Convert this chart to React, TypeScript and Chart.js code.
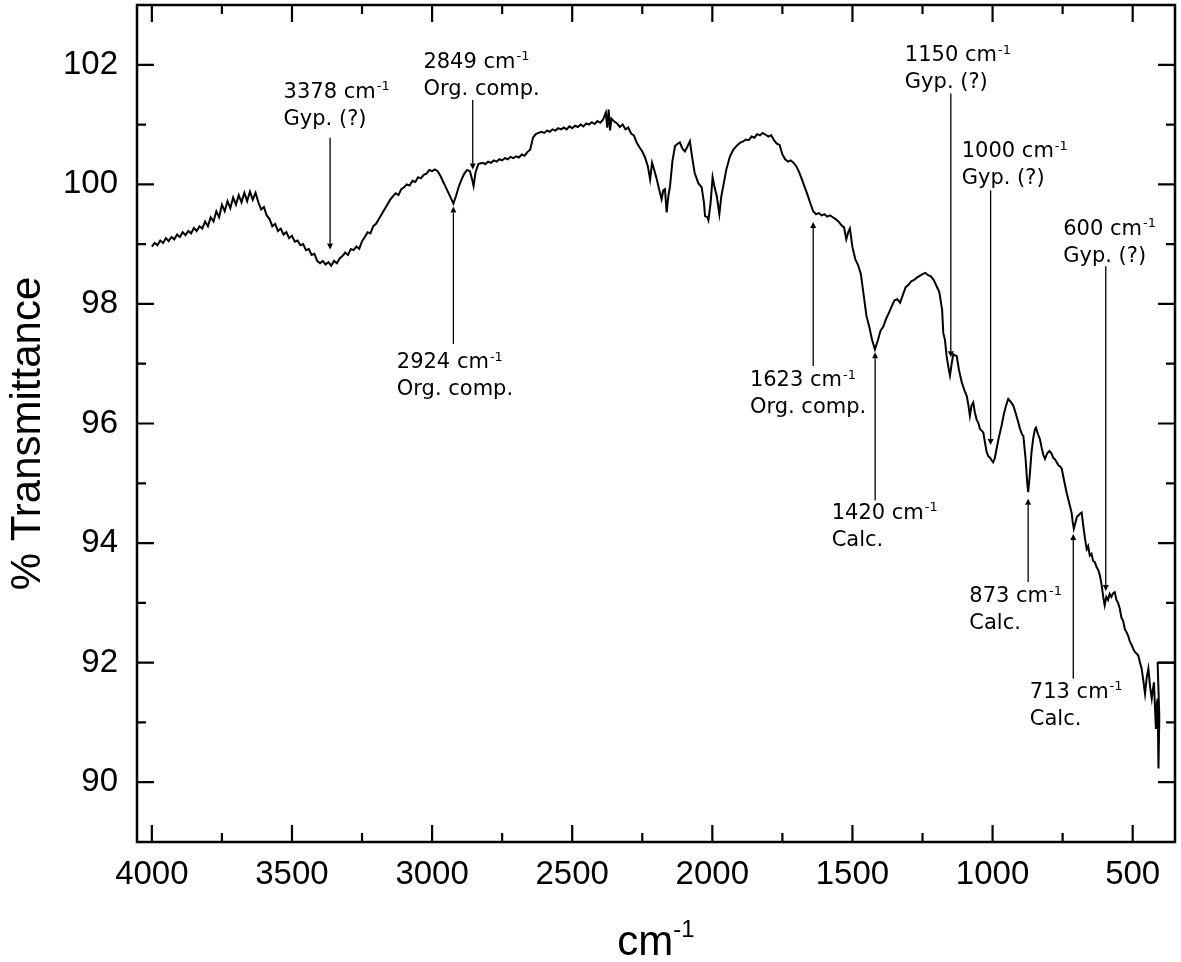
import { useEffect, useRef } from "react";
import { Chart, registerables } from "chart.js";

Chart.register(...registerables);

// ---- Spectrum data (wavenumber in cm-1, % transmittance) ----
const wavenumbers: number[] = [
  4000, 3990, 3980, 3970, 3960, 3950, 3940, 3930, 3920, 3910, 3900, 3890, 3880, 3870, 3860, 3850, 3840, 3830, 3820, 3810,
  3800, 3790, 3780, 3770, 3760, 3750, 3740, 3730, 3720, 3710, 3700, 3690, 3680, 3670, 3660, 3650, 3640, 3630, 3620, 3610,
  3600, 3590, 3580, 3570, 3560, 3550, 3540, 3530, 3520, 3510, 3500, 3490, 3480, 3470, 3460, 3450, 3440, 3430, 3420, 3410,
  3400, 3390, 3380, 3370, 3360, 3350, 3340, 3330, 3320, 3310, 3300, 3290, 3280, 3270, 3260, 3250, 3240, 3230, 3220, 3210,
  3200, 3190, 3180, 3170, 3160, 3150, 3140, 3130, 3120, 3110, 3100, 3090, 3080, 3070, 3060, 3050, 3040, 3030, 3020, 3010,
  3000, 2990, 2980, 2970, 2960, 2950, 2940, 2930, 2924, 2915, 2905, 2895, 2885, 2875, 2865, 2858, 2852, 2845, 2835, 2820,
  2810, 2800, 2790, 2780, 2770, 2760, 2750, 2740, 2730, 2720, 2710, 2700, 2690, 2680, 2670, 2660, 2650, 2640, 2630, 2620,
  2610, 2600, 2590, 2580, 2570, 2560, 2550, 2540, 2530, 2520, 2510, 2500, 2490, 2480, 2470, 2460, 2450, 2440, 2430, 2420,
  2410, 2400, 2390, 2380, 2375, 2370, 2365, 2360, 2350, 2340, 2330, 2320, 2310, 2300, 2290, 2280, 2270, 2260, 2250, 2240,
  2230, 2222, 2215, 2205, 2198, 2190, 2181, 2175, 2169, 2163, 2157, 2151, 2142, 2133, 2124, 2116, 2107, 2098, 2090, 2080,
  2072, 2063, 2050, 2038, 2030, 2026, 2018, 2014, 2006, 1999, 1992, 1984, 1975, 1968, 1961, 1950, 1937, 1925, 1910, 1900,
  1890, 1880, 1870, 1860, 1850, 1840, 1830, 1820, 1810, 1800, 1790, 1780, 1770, 1760, 1750, 1740, 1730, 1720, 1710, 1700,
  1690, 1680, 1670, 1660, 1650, 1640, 1630, 1620, 1610, 1600, 1590, 1580, 1570, 1560, 1550, 1540, 1530, 1522, 1515, 1509,
  1500, 1490, 1480, 1470, 1460, 1450, 1440, 1430, 1420, 1410, 1400, 1390, 1380, 1370, 1360, 1350, 1340, 1330, 1320, 1310,
  1300, 1290, 1280, 1270, 1260, 1250, 1240, 1230, 1220, 1210, 1200, 1190, 1180, 1176, 1170, 1164, 1158, 1152, 1146, 1140,
  1134, 1128, 1120, 1110, 1100, 1092, 1086, 1081, 1075, 1069, 1063, 1057, 1050, 1045, 1039, 1033, 1027, 1021, 1015, 1009,
  1003, 998, 992, 986, 977, 968, 960, 952, 944, 935, 926, 918, 910, 902, 895, 890, 882, 877, 873, 867,
  861, 855, 849, 845, 838, 831, 825, 819, 813, 805, 797, 790, 783, 777, 771, 765, 759, 753, 745, 736,
  727, 718, 714, 710, 704, 699, 694, 688, 682, 676, 670, 664, 659, 653, 647, 641, 635, 629, 623, 617,
  611, 605, 600, 594, 588, 582, 576, 570, 564, 558, 552, 546, 540, 534, 528, 522, 516, 510, 504, 498,
  492, 486, 480, 474, 468, 462, 456, 450, 444, 438, 432, 428, 424, 420, 417, 414, 411, 408, 405, 411,
  349,
];

const transmittance: number[] = [
  98.96, 99.02, 98.98, 99.06, 99.02, 99.10, 99.05, 99.12, 99.08, 99.16, 99.12, 99.20, 99.15, 99.22, 99.18, 99.27, 99.22, 99.30, 99.26, 99.38,
  99.30, 99.45, 99.38, 99.55, 99.45, 99.66, 99.55, 99.72, 99.60, 99.78, 99.66, 99.82, 99.70, 99.86, 99.72, 99.88, 99.74, 99.86, 99.70, 99.58,
  99.62, 99.48, 99.42, 99.30, 99.34, 99.22, 99.26, 99.16, 99.20, 99.10, 99.14, 99.04, 99.06, 98.98, 99.00, 98.90, 98.92, 98.82, 98.84, 98.72,
  98.68, 98.72, 98.66, 98.70, 98.64, 98.72, 98.68, 98.76, 98.80, 98.86, 98.82, 98.92, 98.90, 98.96, 98.92, 99.05, 99.12, 99.20, 99.18, 99.30,
  99.34, 99.42, 99.50, 99.58, 99.66, 99.74, 99.80, 99.85, 99.82, 99.92, 99.95, 100.00, 99.98, 100.06, 100.04, 100.12, 100.10, 100.16, 100.18, 100.24,
  100.22, 100.25, 100.22, 100.14, 100.04, 99.94, 99.84, 99.74, 99.68, 99.80, 99.96, 100.08, 100.18, 100.24, 100.22, 100.10, 99.97, 100.20, 100.34, 100.36,
  100.34, 100.38, 100.36, 100.40, 100.38, 100.42, 100.40, 100.44, 100.42, 100.46, 100.44, 100.47, 100.45, 100.50, 100.48, 100.54, 100.58, 100.78, 100.84, 100.86,
  100.88, 100.86, 100.90, 100.88, 100.92, 100.90, 100.94, 100.92, 100.95, 100.92, 100.97, 100.94, 100.98, 100.96, 101.00, 100.97, 101.02, 101.00, 101.04, 101.01,
  101.06, 101.03, 101.08, 101.20, 100.95, 101.25, 100.90, 101.10, 101.05, 101.02, 100.96, 101.00, 100.92, 100.95, 100.85, 100.82, 100.70, 100.62, 100.55, 100.45,
  100.30, 100.08, 100.36, 100.20, 100.08, 99.92, 99.75, 99.90, 99.92, 99.53, 99.80, 99.97, 100.40, 100.64, 100.68, 100.70, 100.60, 100.55, 100.62, 100.72,
  100.45, 100.19, 100.02, 99.95, 99.70, 99.47, 99.45, 99.40, 99.70, 100.12, 99.95, 99.80, 99.50, 99.80, 99.97, 100.25, 100.47, 100.58, 100.66, 100.70,
  100.72, 100.75, 100.74, 100.80, 100.78, 100.84, 100.82, 100.86, 100.83, 100.80, 100.82, 100.74, 100.68, 100.66, 100.50, 100.42, 100.38, 100.40, 100.36, 100.30,
  100.20, 100.08, 99.95, 99.82, 99.68, 99.55, 99.50, 99.52, 99.48, 99.50, 99.46, 99.48, 99.45, 99.42, 99.38, 99.32, 99.28, 99.08, 99.20, 99.26,
  98.95, 98.75, 98.65, 98.50, 98.15, 97.80, 97.62, 97.40, 97.24, 97.38, 97.55, 97.62, 97.75, 97.85, 97.96, 98.06, 98.08, 98.02, 98.15, 98.28,
  98.32, 98.38, 98.40, 98.44, 98.47, 98.50, 98.52, 98.48, 98.46, 98.40, 98.30, 98.20, 97.90, 97.52, 97.40, 97.13, 96.95, 96.80, 97.00, 97.16,
  97.14, 97.13, 96.90, 96.69, 96.55, 96.46, 96.30, 96.13, 96.30, 96.35, 96.18, 96.07, 96.00, 95.91, 95.88, 95.85, 95.68, 95.52, 95.45, 95.43,
  95.38, 95.35, 95.42, 95.57, 95.78, 95.96, 96.15, 96.30, 96.41, 96.36, 96.30, 96.18, 96.05, 95.91, 95.82, 95.79, 95.40, 95.05, 94.85, 95.15,
  95.52, 95.75, 95.90, 95.93, 95.82, 95.74, 95.60, 95.48, 95.41, 95.50, 95.54, 95.50, 95.42, 95.40, 95.35, 95.30, 95.28, 95.24, 95.05, 94.85,
  94.68, 94.51, 94.35, 94.24, 94.35, 94.44, 94.46, 94.49, 94.51, 94.28, 94.07, 93.90, 93.95, 93.79, 93.82, 93.70, 93.68, 93.60, 93.55, 93.46,
  93.30, 93.10, 92.96, 93.10, 93.05, 93.15, 93.10, 93.16, 93.18, 93.05, 93.00, 92.90, 92.75, 92.70, 92.56, 92.51, 92.45, 92.35, 92.30, 92.23,
  92.18, 92.15, 92.12, 92.00, 91.90, 91.70, 91.48, 91.75, 91.90, 91.60, 91.40, 91.55, 91.67, 91.20, 90.89, 91.30, 91.40, 90.23, 91.10, 92.00,
  92.00,
];

// ---- Axes ----
const xMin = 349;
const xMax = 4053;
const yMin = 89;
const yMax = 103;
const xMajorTicks = [500, 1000, 1500, 2000, 2500, 3000, 3500, 4000];
const xMinorTicks = [750, 1250, 1750, 2250, 2750, 3250, 3750];
const yMajorTicks = [90, 92, 94, 96, 98, 100, 102];
const yMinorTicks = [91, 93, 95, 97, 99, 101];
const xTitle = "cm";
const xTitleSup = "-1";
const yTitle = "% Transmittance";

// ---- Peak annotations (data coordinates) ----
const peakLabels = ["3378", "2849", "2924", "1623", "1420", "1150", "1000", "600", "873", "713"];
const peakNotes = ["Gyp. (?)", "Org. comp.", "Org. comp.", "Org. comp.", "Calc.", "Gyp. (?)", "Gyp. (?)", "Gyp. (?)", "Calc.", "Calc."];
const arrowWn = [3364, 2855, 2924, 1640, 1419, 1149, 1007, 596, 873, 712];
const arrowTip = [98.91, 100.25, 99.63, 99.37, 97.19, 97.11, 95.64, 93.2, 94.74, 94.15];
const arrowTail = [100.78, 101.41, 97.33, 96.96, 94.71, 101.52, 99.9, 98.63, 93.35, 91.73];
const textWn = [3530, 3031, 3126, 1866, 1574, 1313, 1110, 748, 1083, 867];
const textVal = [101.45, 101.95, 96.92, 96.62, 94.41, 102.06, 100.45, 99.16, 93.01, 91.41];

const overlayPlugin = {
  id: "overlay",
  afterDatasetsDraw(chart: any) {
    const { ctx, chartArea: a, scales } = chart;
    const xs = scales.x;
    const ys = scales.y;
    ctx.save();
    ctx.strokeStyle = "#000";
    ctx.fillStyle = "#000";

    // frame
    ctx.lineWidth = 2.5;
    ctx.strokeRect(a.left, a.top, a.right - a.left, a.bottom - a.top);

    // inward ticks
    ctx.lineWidth = 2.2;
    ctx.beginPath();
    const xTick = (v: number, len: number) => {
      const p = xs.getPixelForValue(v);
      ctx.moveTo(p, a.bottom);
      ctx.lineTo(p, a.bottom - len);
      ctx.moveTo(p, a.top);
      ctx.lineTo(p, a.top + len);
    };
    const yTick = (v: number, len: number) => {
      const p = ys.getPixelForValue(v);
      ctx.moveTo(a.left, p);
      ctx.lineTo(a.left + len, p);
      ctx.moveTo(a.right, p);
      ctx.lineTo(a.right - len, p);
    };
    xMajorTicks.forEach((v) => xTick(v, 17));
    xMinorTicks.forEach((v) => xTick(v, 9));
    yMajorTicks.forEach((v) => yTick(v, 17));
    yMinorTicks.forEach((v) => yTick(v, 9));
    ctx.stroke();

    // annotations
    ctx.lineWidth = 1.3;
    for (let i = 0; i < peakLabels.length; i++) {
      const px = xs.getPixelForValue(arrowWn[i]);
      const tip = ys.getPixelForValue(arrowTip[i]);
      const tail = ys.getPixelForValue(arrowTail[i]);
      const dir = tip > tail ? 1 : -1;
      const head = 6;
      ctx.beginPath();
      ctx.moveTo(px, tail);
      ctx.lineTo(px, tip - dir * head);
      ctx.stroke();
      ctx.beginPath();
      ctx.moveTo(px, tip);
      ctx.lineTo(px - 3, tip - dir * head);
      ctx.lineTo(px + 3, tip - dir * head);
      ctx.closePath();
      ctx.fill();

      const tx = xs.getPixelForValue(textWn[i]);
      const ty = ys.getPixelForValue(textVal[i]);
      ctx.textAlign = "left";
      ctx.textBaseline = "alphabetic";
      ctx.font = "21px 'DejaVu Sans'";
      const main = peakLabels[i] + " cm";
      ctx.fillText(main, tx, ty);
      const w = ctx.measureText(main).width;
      ctx.font = "13px 'DejaVu Sans'";
      ctx.fillText("-1", tx + w + 1, ty - 7.5);
      ctx.font = "21px 'DejaVu Sans'";
      ctx.fillText(peakNotes[i], tx, ty + 27);
    }

    // x title with superscript
    ctx.textBaseline = "alphabetic";
    ctx.textAlign = "left";
    ctx.font = "42px 'Liberation Sans', Arial, sans-serif";
    const wMain = ctx.measureText(xTitle).width;
    ctx.font = "24px 'Liberation Sans', Arial, sans-serif";
    const wSup = ctx.measureText(xTitleSup).width;
    const cx = (a.left + a.right) / 2;
    const startX = cx - (wMain + wSup) / 2;
    ctx.font = "42px 'Liberation Sans', Arial, sans-serif";
    ctx.fillText(xTitle, startX, 955);
    ctx.font = "24px 'Liberation Sans', Arial, sans-serif";
    ctx.fillText(xTitleSup, startX + wMain, 937);

    // y title rotated
    ctx.save();
    ctx.translate(40, (a.top + a.bottom) / 2 + 10);
    ctx.rotate(-Math.PI / 2);
    ctx.textAlign = "center";
    ctx.font = "42px 'Liberation Sans', Arial, sans-serif";
    ctx.fillText(yTitle, 0, 0);
    ctx.restore();

    ctx.restore();
  },
};

export default function App() {
  const canvasRef = useRef<HTMLCanvasElement | null>(null);

  useEffect(() => {
    if (!canvasRef.current) return;
    const points = wavenumbers.map((x, i) => ({ x, y: transmittance[i] }));
    const tickFont = { family: "'Liberation Sans', Arial, sans-serif", size: 33 };
    const chart = new Chart(canvasRef.current, {
      type: "line",
      data: {
        datasets: [
          {
            data: points,
            borderColor: "#000",
            borderWidth: 2,
            pointRadius: 0,
            tension: 0,
            fill: false,
          },
        ],
      },
      options: {
        responsive: false,
        animation: false,
        layout: { padding: { top: 5, right: 6, left: 0, bottom: 0 } },
        plugins: { legend: { display: false }, tooltip: { enabled: false } },
        scales: {
          x: {
            type: "linear",
            reverse: true,
            min: xMin,
            max: xMax,
            grid: { display: false, drawTicks: false },
            border: { display: false },
            afterBuildTicks: (s: any) => {
              s.ticks = xMajorTicks.map((v) => ({ value: v }));
            },
            afterFit: (s: any) => {
              s.height = 120;
              s.paddingLeft = 0;
              s.paddingRight = 0;
            },
            ticks: {
              color: "#000",
              font: tickFont,
              padding: 13,
              maxRotation: 0,
              autoSkip: false,
              callback: (v: any) => String(v),
            },
          },
          y: {
            type: "linear",
            min: yMin,
            max: yMax,
            grid: { display: false, drawTicks: false },
            border: { display: false },
            afterBuildTicks: (s: any) => {
              s.ticks = yMajorTicks.map((v) => ({ value: v }));
            },
            afterFit: (s: any) => {
              s.width = 137;
              s.paddingTop = 0;
              s.paddingBottom = 0;
            },
            ticks: {
              color: "#000",
              font: tickFont,
              padding: 19,
              autoSkip: false,
              callback: (v: any) => String(v),
            },
          },
        },
      } as any,
      plugins: [overlayPlugin],
    });
    return () => chart.destroy();
  }, []);

  return (
    <div style={{ position: "fixed", left: 0, top: 0, width: 1181, height: 962, background: "#fff" }}>
      <canvas ref={canvasRef} width={1181} height={962} style={{ width: 1181, height: 962, display: "block" }} />
    </div>
  );
}
